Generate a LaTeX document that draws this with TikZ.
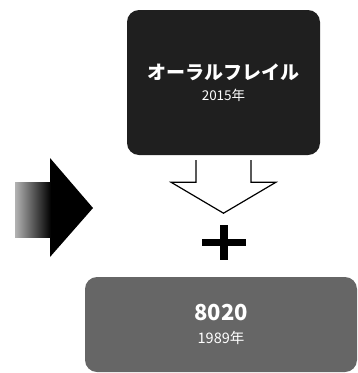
\documentclass[tikz,border=0pt]{standalone}
\usepackage{fontspec}
\newfontfamily\jpfont{Noto Sans CJK JP}
\usetikzlibrary{positioning,shapes}

\begin{document}
\begin{tikzpicture}[x=1pt,y=-1pt,
topbox/.style={rectangle, rounded corners=12pt, fill=black!88, text=white, minimum width=193pt, minimum height=145pt, inner sep=0pt, align=center, font=\jpfont},
botbox/.style={rectangle, rounded corners=12pt, fill=black!60, text=white, minimum width=272pt, minimum height=95pt, inner sep=0pt, align=center, font=\jpfont},
hollow/.style={draw=black, line width=1.2pt, fill=white, line join=miter},
]
\useasboundingbox (0,0) rectangle (357,373);

%Boxes
\node[topbox] (oral) at (223.5,82.5) {{\fontsize{19}{22}\selectfont\bfseries オーラルフレイル}\\[7pt]{\fontsize{13.5}{15}\selectfont 2015年}};
\node[botbox] (eighty) at (221,324.5) {{\fontsize{22}{24}\selectfont\bfseries 8020}\\[10pt]{\fontsize{14.5}{16}\selectfont 1989年}};

%Left arrow
\coordinate (lefttip) at (93,208);
\fill[black] (lefttip) -- ++(-43,-50) -- ++(0,24) -- ++(-35,0) -- ++(0,55) -- ++(35,0) -- ++(0,20) -- cycle;
\shade[left color=black!30, right color=black] ([xshift=-78pt, yshift=26pt]lefttip) rectangle ++(36,55);

%Down arrow
\draw[hollow] ([xshift=-27.5pt, yshift=-5pt]oral.south) -- ++(0,22) -- ++(-25,0) -- ++(52.5,31) -- ++(52.5,-31) -- ++(-25,0) -- ++(0,-22);

%Plus
\coordinate (plus) at (224,242);
\fill[black] ([xshift=-22pt, yshift=3.5pt]plus) rectangle ++(44,7);
\fill[black] ([xshift=-4pt, yshift=17pt]plus) rectangle ++(8,35);
\end{tikzpicture}
\end{document}
